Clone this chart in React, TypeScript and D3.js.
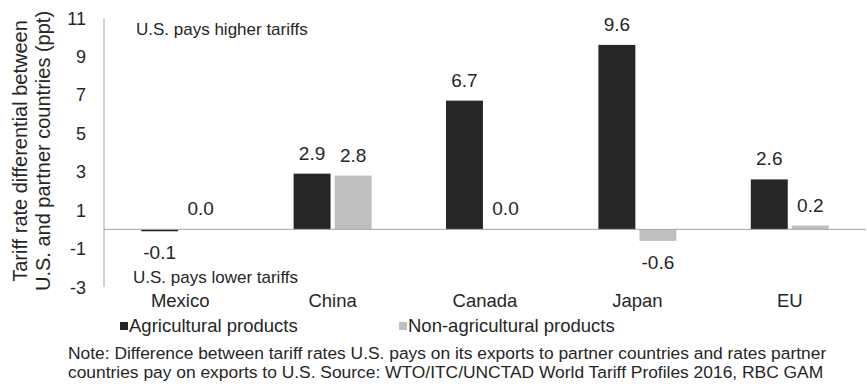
import React from "react";
import * as d3 from "d3";

const categories = ["Mexico", "China", "Canada", "Japan", "EU"];
const agricultural = [-0.1, 2.9, 6.7, 9.6, 2.6];
const nonAgricultural = [0.0, 2.8, 0.0, -0.6, 0.2];
const seriesNames = ["Agricultural products", "Non-agricultural products"];
const seriesColors = ["#262626", "#bfbfbf"];
const yTicks = [11, 9, 7, 5, 3, 1, -1, -3];
const yTitle = ["Tariff rate differential between", "U.S. and partner countries (ppt)"];
const noteLines = [
  "Note: Difference between tariff rates U.S. pays on its exports to partner countries and rates partner",
  "countries pay on exports to U.S. Source: WTO/ITC/UNCTAD World Tariff Profiles 2016, RBC GAM",
];

const W = 867;
const H = 384;
const FONT = "'Liberation Sans', Arial, sans-serif";
const TEXT = "#262626";
const AXIS = "#a6a6a6";

export default function App() {
  const left = 104;
  const right = 866;
  const y = d3.scaleLinear().domain([-3, 11]).range([287, 18]);
  const x0 = d3.scaleBand<string>().domain(categories).range([left, right]).paddingInner(0).paddingOuter(0);
  const x1 = d3
    .scaleBand<number>()
    .domain([0, 1])
    .range([x0.bandwidth() / 2 - 39, x0.bandwidth() / 2 + 39])
    .paddingInner(0.1);
  const series = [agricultural, nonAgricultural];
  const y0 = y(0);

  return (
    <svg
      width={W}
      height={H}
      style={{ position: "absolute", left: 0, top: 0, background: "#fff" }}
      fontFamily={FONT}
    >
      {/* bars */}
      {categories.map((c, i) => (
        <g key={c} transform={`translate(${x0(c)},0)`}>
          {series.map((s, si) => {
            const v = s[i];
            const top = y(Math.max(0, v));
            const h = Math.abs(y(v) - y0);
            const bx = x1(si)!;
            const bw = x1.bandwidth();
            const ly = v >= 0 ? y(v) - 14 : y(v) + 28;
            return (
              <g key={si}>
                <rect x={bx} y={top} width={bw} height={h} fill={seriesColors[si]} />
                <text
                  x={bx + bw / 2}
                  y={ly}
                  textAnchor="middle"
                  fontSize={19}
                  fill={TEXT}
                >
                  {v.toFixed(1)}
                </text>
              </g>
            );
          })}
          <text x={x0.bandwidth() / 2} y={307} textAnchor="middle" fontSize={18.5} fill={TEXT}>
            {c}
          </text>
        </g>
      ))}

      {/* zero line */}
      <line x1={left} x2={right} y1={y0} y2={y0} stroke={AXIS} strokeWidth={1} />
      {/* y axis */}
      <line x1={left} x2={left} y1={y(11)} y2={y(-3)} stroke={AXIS} strokeWidth={1} />
      {yTicks.map((t) => (
        <text key={t} x={86} y={y(t) + 6.5} textAnchor="end" fontSize={18} fill={TEXT}>
          {t}
        </text>
      ))}

      {/* y title */}
      {yTitle.map((line, i) => (
        <text
          key={i}
          transform={`translate(${27 + i * 23},${151}) rotate(-90)`}
          textAnchor="middle"
          fontSize={20}
          fill={TEXT}
        >
          {line}
        </text>
      ))}

      {/* annotations */}
      <text x={136} y={35} fontSize={17} fill={TEXT}>
        U.S. pays higher tariffs
      </text>
      <text x={133} y={283} fontSize={17} fill={TEXT}>
        U.S. pays lower tariffs
      </text>

      {/* legend */}
      {seriesNames.map((n, i) => {
        const lx = i === 0 ? 120 : 399;
        return (
          <g key={n}>
            <rect x={lx} y={322} width={8} height={8} fill={seriesColors[i]} />
            <text x={lx + 9} y={332} fontSize={18.5} fill={TEXT}>
              {n}
            </text>
          </g>
        );
      })}

      {/* note */}
      {noteLines.map((l, i) => (
        <text key={i} x={68} y={359} fontSize={17.4} fill={TEXT} dy={i * 19}>
          {l}
        </text>
      ))}
    </svg>
  );
}
